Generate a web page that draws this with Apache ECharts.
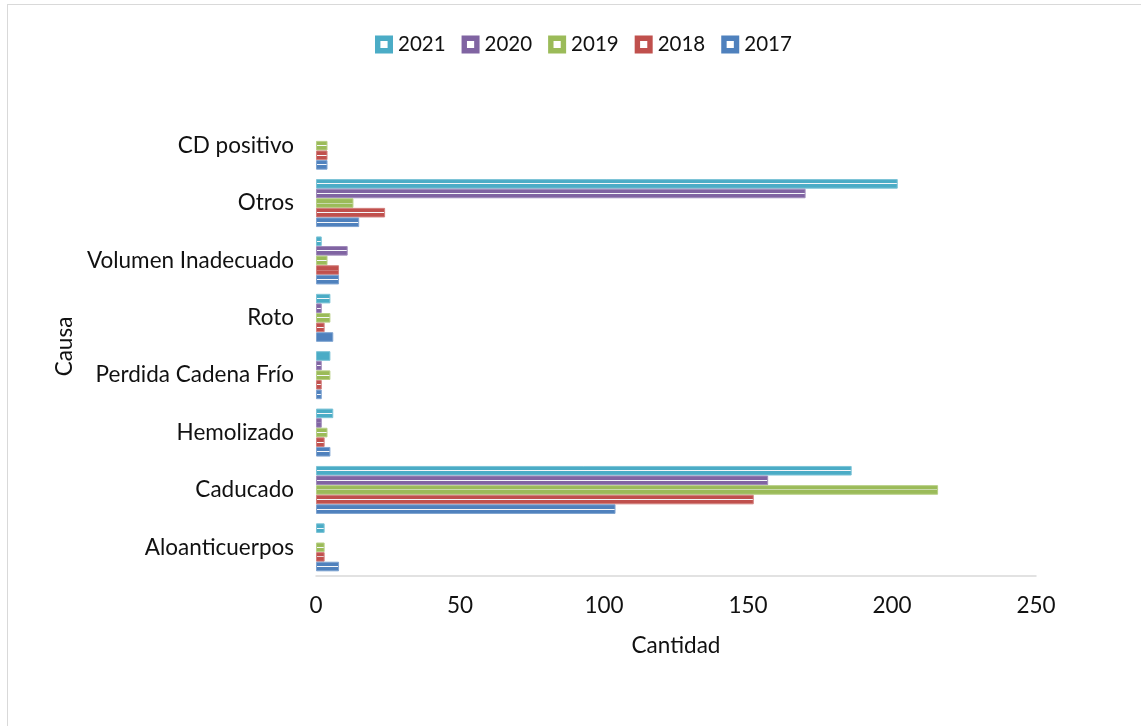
<!DOCTYPE html>
<html>
<head>
<meta charset="utf-8">
<title>Causa por año</title>
<script src="https://cdn.jsdelivr.net/npm/echarts@6/dist/echarts.min.js"></script>
<style>
  html, body { margin: 0; padding: 0; background: #fff; }
  #chart { width: 1141px; height: 726px; position: relative; }
  #frame { position: absolute; left: 7px; top: 4px; width: 1200px; height: 800px;
           border-left: 1.5px solid #d9d9d9; border-top: 1.5px solid #d9d9d9; pointer-events: none; }
</style>
</head>
<body>
<div id="chart"></div>
<div id="frame"></div>
<script>
// Categories, bottom to top along the y axis
const causas = ['Aloanticuerpos', 'Caducado', 'Hemolizado', 'Perdida Cadena Frío', 'Roto', 'Volumen Inadecuado', 'Otros', 'CD positivo'];

// Counts per year (same order as causas); null = no value recorded
const y2021 = [3, 186, 6, 5, 5, 2, 202, null];
const y2020 = [null, 157, 2, 2, 2, 11, 170, null];
const y2019 = [3, 216, 4, 5, 5, 4, 13, 4];
const y2018 = [3, 152, 3, 2, 3, 8, 24, 4];
const y2017 = [8, 104, 5, 2, 6, 8, 15, 4];

const xTicks = [0, 50, 100, 150, 200, 250];

const years = [
  { name: '2021', data: y2021, color: '#4BACC6', edge: '#7cc3d6' },
  { name: '2020', data: y2020, color: '#8064A2', edge: '#a08bbb' },
  { name: '2019', data: y2019, color: '#9BBB59', edge: '#b7cf85' },
  { name: '2018', data: y2018, color: '#C0504D', edge: '#d27f7d' },
  { name: '2017', data: y2017, color: '#4F81BD', edge: '#7ea3d0' }
];

const FONT = 'Lato';
const TEXT = '#111';
const FS = 22.5;

// Solid fill with a thin pale highlight running along the middle of each bar
function barFill(c) {
  return new echarts.graphic.LinearGradient(0, 0, 0, 1, [
    { offset: 0, color: c },
    { offset: 0.45, color: c },
    { offset: 0.46, color: 'rgba(240,243,247,0.7)' },
    { offset: 0.54, color: 'rgba(240,243,247,0.7)' },
    { offset: 0.55, color: c },
    { offset: 1, color: c }
  ]);
}

const chart = echarts.init(document.getElementById('chart'), null, { renderer: 'canvas' });

chart.setOption({
  backgroundColor: '#fff',
  animation: false,
  textStyle: { fontFamily: FONT, color: TEXT },
  legend: {
    top: 29,
    left: 370,
    itemWidth: 18,
    itemHeight: 18,
    itemGap: 16,
    icon: 'path://M0,0H10V10H0ZM3,3V7H7V3Z',
    textStyle: { fontFamily: FONT, fontSize: 20.5, color: TEXT },
    data: years.map(y => ({ name: y.name, itemStyle: { color: y.color, borderWidth: 0 } }))
  },
  grid: { left: 316, right: 105, top: 117, height: 459, containLabel: false },
  xAxis: {
    type: 'value',
    min: xTicks[0],
    max: xTicks[xTicks.length - 1],
    interval: xTicks[1] - xTicks[0],
    name: 'Cantidad',
    nameLocation: 'middle',
    nameGap: 58,
    nameTextStyle: { fontFamily: FONT, fontSize: FS, color: TEXT },
    axisLine: { show: true, lineStyle: { color: '#d9d9d9', width: 1.5 } },
    axisTick: { show: false },
    splitLine: { show: false },
    axisLabel: { fontFamily: FONT, fontSize: FS, color: TEXT, margin: 18 }
  },
  yAxis: {
    type: 'category',
    data: causas,
    name: 'Causa',
    nameLocation: 'middle',
    nameGap: 240,
    nameRotate: 90,
    nameTextStyle: { fontFamily: FONT, fontSize: FS, color: TEXT },
    axisLine: { show: false },
    axisTick: { show: false },
    splitLine: { show: false },
    axisLabel: { fontFamily: FONT, fontSize: FS, color: TEXT, margin: 22 }
  },
  series: years.map(y => ({
    name: y.name,
    type: 'bar',
    data: y.data,
    barWidth: 9.6,
    barGap: '0%',
    itemStyle: { color: barFill(y.color), borderColor: y.edge, borderWidth: 1 }
  }))
});
</script>
</body>
</html>
